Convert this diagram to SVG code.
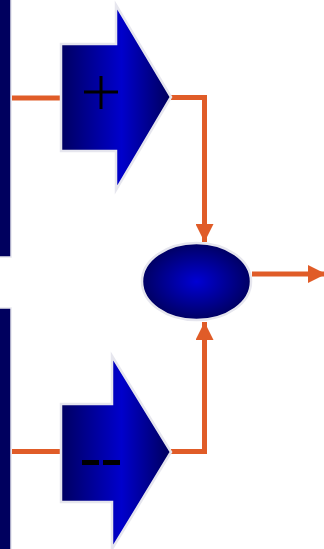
<svg xmlns="http://www.w3.org/2000/svg" width="324" height="549" viewBox="0 0 324 549">
<style>
.shape{stroke:#e6e6ee;stroke-width:2.5;stroke-linejoin:miter}
.bar{fill:#00005e;stroke:#e6e6ee;stroke-width:1.5}
.wire{fill:none;stroke:#e05c28;stroke-width:5;stroke-linejoin:miter}
.sign{stroke:#000;stroke-width:3}
</style>
<defs>
<linearGradient id="ag" x1="0" y1="0" x2="1" y2="0">
<stop offset="0" stop-color="#000060"/>
<stop offset="0.55" stop-color="#0000cc"/>
<stop offset="1" stop-color="#00005a"/>
</linearGradient>
<radialGradient id="eg" cx="0.5" cy="0.5" r="0.5">
<stop offset="0" stop-color="#0000d4"/>
<stop offset="1" stop-color="#000062"/>
</radialGradient>
<marker id="ah" viewBox="0 0 10 10" refX="10" refY="5" markerWidth="3.6" markerHeight="3.6" orient="auto" markerUnits="strokeWidth">
<path d="M0,0 L10,5 L0,10 z" fill="#e05c28"/>
</marker>
</defs>
<g id="bar-top"><rect class="bar" x="-2" y="-2" width="13" height="259"/></g>
<g id="bar-bottom"><rect class="bar" x="-2" y="308" width="13" height="245"/></g>
<g id="connectors">
<line class="wire" x1="12" y1="98" x2="61" y2="98"/>
<line class="wire" x1="12" y1="451.5" x2="61" y2="451.5"/>
<polyline class="wire" points="171,97.5 204.5,97.5 204.5,242" marker-end="url(#ah)"/>
<polyline class="wire" points="171,451.5 204.5,451.5 204.5,322" marker-end="url(#ah)"/>
<line class="wire" x1="252" y1="274" x2="326" y2="274" marker-end="url(#ah)"/>
</g>
<g id="plus-arrow">
<polygon class="shape" fill="url(#ag)" points="61,44 116,44 116,5 171,97 116,190 116,151 61,151"/>
<line class="sign" x1="84" y1="92" x2="118" y2="92"/>
<line class="sign" x1="101" y1="76" x2="101" y2="109"/>
</g>
<g id="minus-arrow">
<polygon class="shape" fill="url(#ag)" points="61,404 112,404 112,356 171,452 112,549 112,502 61,502"/>
<rect x="82" y="460" width="17" height="5" fill="#000"/>
<rect x="103" y="460" width="17" height="5" fill="#000"/>
</g>
<g id="sum-node">
<ellipse class="shape" fill="url(#eg)" cx="196.5" cy="281.5" rx="54.5" ry="38.5"/>
</g>
</svg>
